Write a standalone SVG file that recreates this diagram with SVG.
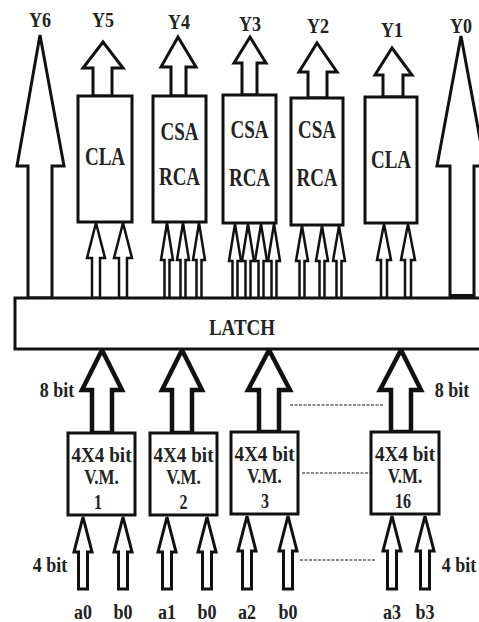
<svg xmlns="http://www.w3.org/2000/svg" width="479" height="622" viewBox="0 0 479 622">
<style>
.bx{fill:#fff;stroke:#111;stroke-width:3}
.ar{fill:#fff;stroke:#111;stroke-width:3;stroke-linejoin:miter}
.an{fill:#fff;stroke:#111;stroke-width:2.5}
.at{fill:#fff;stroke:#111;stroke-width:4.5}
text{font-family:'Liberation Serif','Times New Roman',serif;font-weight:700;fill:#222;text-anchor:middle}
.dl{stroke:#888;stroke-width:2;stroke-dasharray:3 1.5}
</style>
<rect width="479" height="622" fill="#fff"/>
<g id="connectors">
<polygon class="ar" points="40,35 64,166 52,166 52,298 28,298 28,166 17,166"/>
<polygon class="ar" points="461,36 485,166 474,166 474,298 450,298 450,166 437,166"/>
<rect x="450" y="294" width="24" height="4" fill="#111"/>
<polygon class="ar" points="103,42 123,68 112,68 112,96 93,96 93,68 83,68"/>
<polygon class="ar" points="178,37 196,67 186,67 186,96 171,96 171,67 161,67"/>
<polygon class="ar" points="250,37 266,63 257,63 257,95 242,95 242,63 234,63"/>
<polygon class="ar" points="317,43 337,72 327,72 327,98 308,98 308,72 299,72"/>
<polygon class="ar" points="392,48 412,75 403,75 403,97 383,97 383,75 375,75"/>
<polygon class="an" points="96,223 105,258 100,258 100,298 92,298 92,258 87,258"/>
<polygon class="an" points="123,223 132,258 127,258 127,298 119,298 119,258 114,258"/>
<polygon class="an" points="167,223 173,260 169.5,260 169.5,301 164.5,301 164.5,260 161,260"/>
<polygon class="an" points="183,223 189,260 185.5,260 185.5,301 180.5,301 180.5,260 177,260"/>
<polygon class="an" points="199,223 205,260 201.5,260 201.5,301 196.5,301 196.5,260 193,260"/>
<polygon class="an" points="235,224 241,261 237.5,261 237.5,299 232.5,299 232.5,261 229,261"/>
<polygon class="an" points="248,224 254,261 250.5,261 250.5,299 245.5,299 245.5,261 242,261"/>
<polygon class="an" points="261,224 267,261 263.5,261 263.5,299 258.5,299 258.5,261 255,261"/>
<polygon class="an" points="274,224 280,261 276.5,261 276.5,299 271.5,299 271.5,261 268,261"/>
<polygon class="an" points="302,226 308,261 304.5,261 304.5,301 299.5,301 299.5,261 296,261"/>
<polygon class="an" points="322,226 328,261 324.5,261 324.5,299 319.5,299 319.5,261 316,261"/>
<polygon class="an" points="339,226 345,261 341.5,261 341.5,299 336.5,299 336.5,261 333,261"/>
<polygon class="an" points="384,224 391,260 387,260 387,298 381,298 381,260 377,260"/>
<polygon class="an" points="408,224 415,260 411,260 411,298 405,298 405,260 401,260"/>
<polygon class="at" points="102,350 122,390 112,390 112,433 92,433 92,390 82,390"/>
<polygon class="at" points="182,350 202,390 192,390 192,433 172,433 172,390 162,390"/>
<polygon class="at" points="269,350 290,390 279,390 279,432 259,432 259,390 248,390"/>
<polygon class="at" points="401,350 421,390 411,390 411,432 391,432 391,390 380,390"/>
<polygon class="ar" points="83,517 92,552 87.5,552 87.5,589 78.5,589 78.5,552 74,552"/>
<polygon class="ar" points="123,517 132,552 127.5,552 127.5,589 118.5,589 118.5,552 114,552"/>
<polygon class="ar" points="167,517 176,552 171.5,552 171.5,589 162.5,589 162.5,552 158,552"/>
<polygon class="ar" points="207,517 216,552 211.5,552 211.5,589 202.5,589 202.5,552 198,552"/>
<polygon class="ar" points="247,516 256,551 251.5,551 251.5,589 242.5,589 242.5,551 238,551"/>
<polygon class="ar" points="288,516 297,551 292.5,551 292.5,589 283.5,589 283.5,551 279,551"/>
<polygon class="ar" points="392,516 401,551 396.5,551 396.5,589 387.5,589 387.5,551 383,551"/>
<polygon class="ar" points="425,516 434,551 429.5,551 429.5,589 420.5,589 420.5,551 416,551"/>
<line class="dl" x1="290" y1="405" x2="383" y2="405"/>
<line class="dl" x1="302" y1="473" x2="370" y2="473"/>
<line class="dl" x1="300" y1="560" x2="375" y2="560"/>
</g>
<g id="cla5"><rect class="bx" x="78" y="96" width="54" height="126"/><text transform="translate(105 165) scale(1 1.3)" font-size="19">CLA</text></g>
<g id="csa4"><rect class="bx" x="153" y="96" width="53" height="126"/><text transform="translate(179.5 140) scale(1 1.3)" font-size="19">CSA</text><text transform="translate(179.5 185) scale(1 1.3)" font-size="19">RCA</text></g>
<g id="csa3"><rect class="bx" x="223" y="95" width="53" height="128"/><text transform="translate(249.5 138) scale(1 1.3)" font-size="19">CSA</text><text transform="translate(249.5 186) scale(1 1.3)" font-size="19">RCA</text></g>
<g id="csa2"><rect class="bx" x="291" y="98" width="52" height="127"/><text transform="translate(317 138) scale(1 1.3)" font-size="19">CSA</text><text transform="translate(317 186) scale(1 1.3)" font-size="19">RCA</text></g>
<g id="cla1"><rect class="bx" x="365" y="97" width="52" height="126"/><text transform="translate(391 168) scale(1 1.3)" font-size="19">CLA</text></g>
<g id="latch"><rect class="bx" x="15" y="298" width="480" height="51"/><text transform="translate(242 335) scale(1 1.25)" font-size="19">LATCH</text></g>
<g id="vm1"><rect class="bx" x="68" y="433" width="67" height="82"/><text transform="translate(101.5 462) scale(1 1.25)" font-size="17" textLength="60" lengthAdjust="spacingAndGlyphs">4X4 bit</text><text transform="translate(101.5 484) scale(1 1.25)" font-size="17">V.M.</text><text transform="translate(98 509) scale(1 1.25)" font-size="16">1</text></g>
<g id="vm2"><rect class="bx" x="150" y="433" width="67" height="82"/><text transform="translate(183.5 462) scale(1 1.25)" font-size="17" textLength="60" lengthAdjust="spacingAndGlyphs">4X4 bit</text><text transform="translate(183.5 484) scale(1 1.25)" font-size="17">V.M.</text><text transform="translate(183.5 509) scale(1 1.25)" font-size="16">2</text></g>
<g id="vm3"><rect class="bx" x="231" y="432" width="67" height="82"/><text transform="translate(264.5 461) scale(1 1.25)" font-size="17" textLength="60" lengthAdjust="spacingAndGlyphs">4X4 bit</text><text transform="translate(264.5 483) scale(1 1.25)" font-size="17">V.M.</text><text transform="translate(265 508) scale(1 1.25)" font-size="16">3</text></g>
<g id="vm16"><rect class="bx" x="371" y="432" width="68" height="82"/><text transform="translate(405 461) scale(1 1.25)" font-size="17" textLength="60" lengthAdjust="spacingAndGlyphs">4X4 bit</text><text transform="translate(405 483) scale(1 1.25)" font-size="17">V.M.</text><text transform="translate(403 508) scale(1 1.25)" font-size="16">16</text></g>
<g id="labels">
<text transform="translate(40 27) scale(1 1.2)" font-size="18">Y6</text>
<text transform="translate(103 27) scale(1 1.2)" font-size="18">Y5</text>
<text transform="translate(179 29) scale(1 1.2)" font-size="18">Y4</text>
<text transform="translate(250 31) scale(1 1.2)" font-size="18">Y3</text>
<text transform="translate(318 33) scale(1 1.2)" font-size="18">Y2</text>
<text transform="translate(392 37) scale(1 1.2)" font-size="18">Y1</text>
<text transform="translate(461 33) scale(1 1.2)" font-size="18">Y0</text>
<text transform="translate(57 397) scale(1 1.2)" font-size="18">8 bit</text>
<text transform="translate(452 397) scale(1 1.2)" font-size="18">8 bit</text>
<text transform="translate(50 572) scale(1 1.2)" font-size="18">4 bit</text>
<text transform="translate(459 572) scale(1 1.2)" font-size="18">4 bit</text>
<text transform="translate(83 619) scale(1 1.2)" font-size="18">a0</text>
<text transform="translate(123 619) scale(1 1.2)" font-size="18">b0</text>
<text transform="translate(167 619) scale(1 1.2)" font-size="18">a1</text>
<text transform="translate(207 619) scale(1 1.2)" font-size="18">b0</text>
<text transform="translate(247 619) scale(1 1.2)" font-size="18">a2</text>
<text transform="translate(288 619) scale(1 1.2)" font-size="18">b0</text>
<text transform="translate(392 619) scale(1 1.2)" font-size="18">a3</text>
<text transform="translate(425 619) scale(1 1.2)" font-size="18">b3</text>
</g>
</svg>
